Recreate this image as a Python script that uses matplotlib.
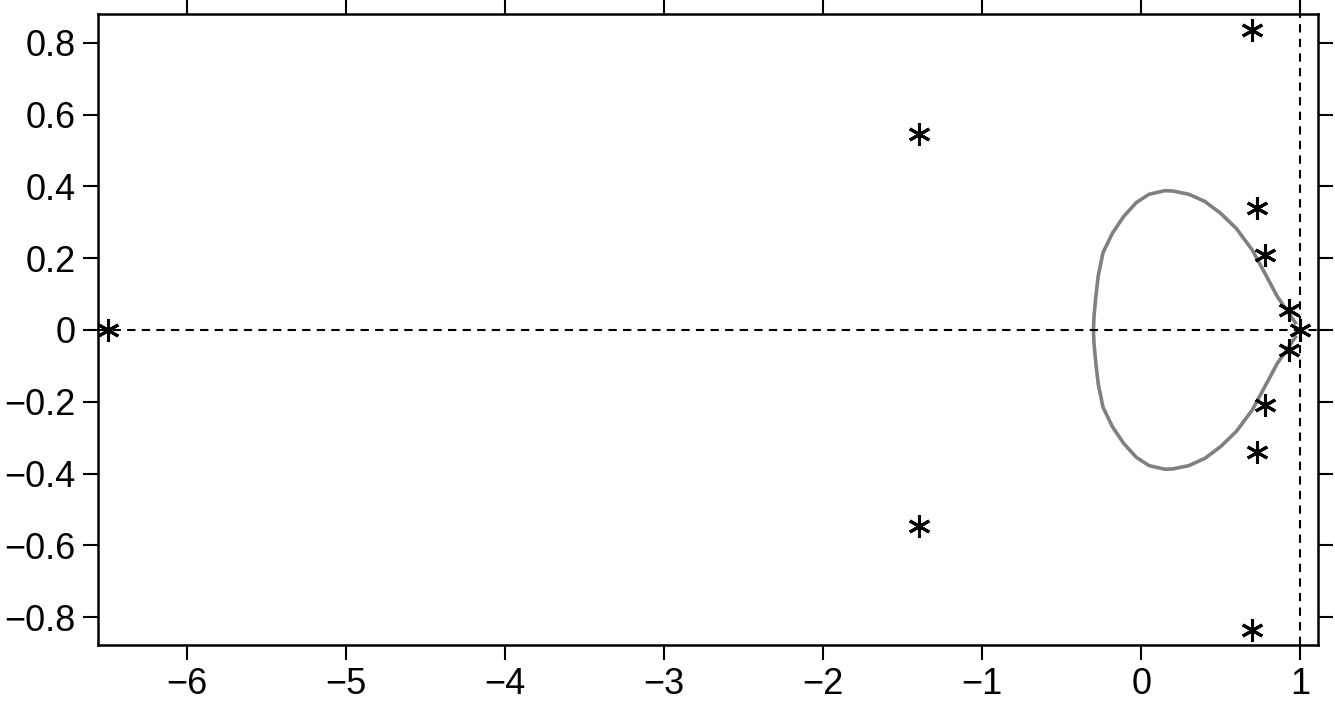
import matplotlib
matplotlib.use("Agg")
import matplotlib.pyplot as plt
import numpy as np

plt.rcParams['font.family'] = ['Liberation Sans', 'DejaVu Sans']
plt.rcParams['axes.unicode_minus'] = True

# eigenvalue points (real, imag)
pts_re = [-6.5, -1.4, -1.4, 0.70, 0.70, 0.73, 0.73, 0.78, 0.78, 0.93, 0.93, 1.0]
pts_im = [0.0, 0.545, -0.545, 0.835, -0.835, 0.34, -0.34, 0.21, -0.21, 0.055, -0.055, 0.0]

# upper half of boundary curve
curve_re = [0.97, 0.9, 0.855, 0.8, 0.7, 0.6, 0.5, 0.4, 0.3, 0.2, 0.15, 0.05, -0.03,
            -0.11, -0.18, -0.24, -0.27, -0.285, -0.296, -0.30]
curve_im = [0.02, 0.065, 0.094, 0.14, 0.222, 0.282, 0.325, 0.358, 0.378, 0.387, 0.388,
            0.378, 0.355, 0.316, 0.27, 0.215, 0.15, 0.092, 0.04, 0.0]

xticks = [-6, -5, -4, -3, -2, -1, 0, 1]
yticks = [-0.8, -0.6, -0.4, -0.2, 0, 0.2, 0.4, 0.6, 0.8]

fig = plt.figure(figsize=(13.35, 7.02), dpi=100)
ax = fig.add_axes([0.0734, 0.081, 0.9136, 0.899])

cr = np.array(curve_re); ci = np.array(curve_im)
full_re = np.concatenate([cr, cr[::-1]])
full_im = np.concatenate([ci, -ci[::-1]])
ax.plot(full_re, full_im, color='#808080', lw=2.6, solid_joinstyle='round')

ax.axhline(0, color='black', ls='--', lw=1.5, dashes=(4, 3))
ax.axvline(1, color='black', ls='--', lw=1.5, dashes=(4, 3))
ax.plot(pts_re, pts_im, ls='none', marker=(6, 2, 0), ms=16, mew=2.2, color='black')

ax.set_xlim(-6.56, 1.11)
ax.set_ylim(-0.878, 0.88)
ax.set_xticks(xticks)
ax.set_xticklabels([f"{t}".replace('-', '\u2212') for t in xticks])
ax.set_yticks(yticks)
ax.set_yticklabels([("0" if t == 0 else f"{t:.1f}").replace('-', '\u2212') for t in yticks])
ax.tick_params(direction='out', top=True, right=True, labelsize=26, length=11, width=1.5, pad=5)
for s in ax.spines.values():
    s.set_linewidth(1.8)
fig.savefig('out.png', dpi=100)
